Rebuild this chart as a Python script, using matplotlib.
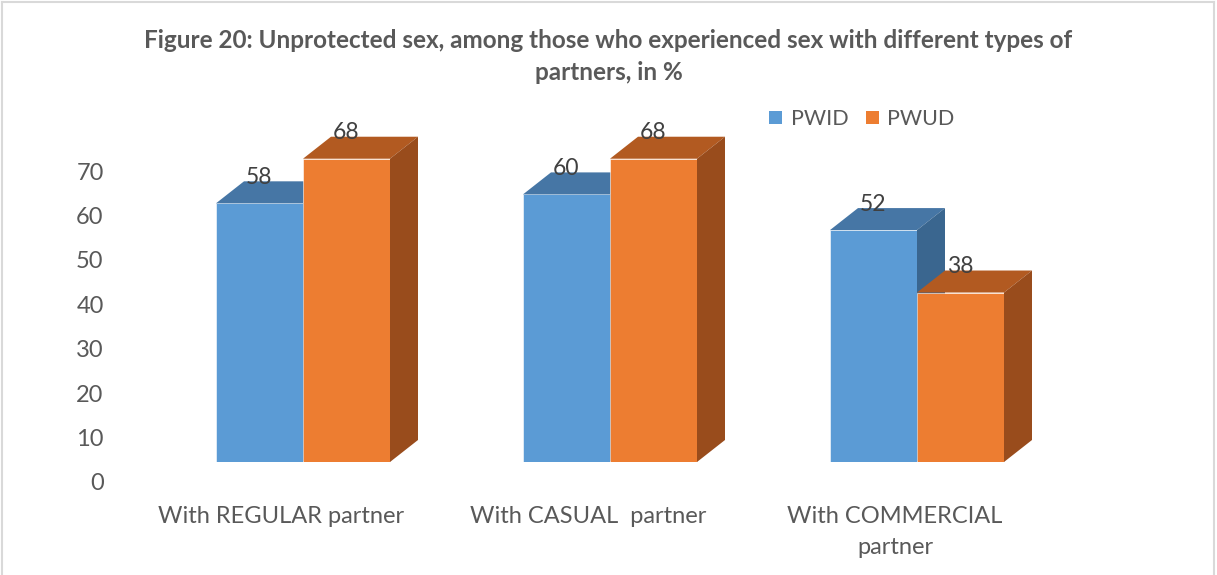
import matplotlib.pyplot as plt
import matplotlib
from matplotlib.patches import Rectangle, Polygon
from matplotlib.lines import Line2D
import numpy as np

categories = ['With REGULAR partner', 'With CASUAL  partner', 'With COMMERCIAL\npartner']
series = ['PWID', 'PWUD']
pwid = [58, 60, 52]
pwud = [68, 68, 38]
yticks = [0, 10, 20, 30, 40, 50, 60, 70]

front = ['#5B9BD5', '#ED7D31']
top = ['#4676A5', '#B25A21']
side = ['#3A668F', '#994C1C']
txt = '#595959'

matplotlib.rcParams['font.family'] = ['Lato', 'DejaVu Sans']

W, H = 1217, 575
fig = plt.figure(figsize=(W / 100, H / 100), dpi=100)

# axes placed so bar base sits at the right pixel row
left, bottom = 149.5 / W, 113 / H
width, height = 921 / W, 356.8 / H
ax = fig.add_axes([left, bottom, width, height])
ax.set_xlim(-0.5, 2.5)
ax.set_ylim(0, 80)
ax.axis('off')

bw = 87 / 307.0        # bar width in data units
dx = 28 / 307.0        # depth offset x
dy = 22 / 4.46         # depth offset y

x = np.arange(len(categories))
for i in range(len(categories)):
    for s, vals in enumerate([pwid, pwud]):
        h = vals[i]
        x0 = x[i] - bw + s * bw
        x1 = x0 + bw
        ax.add_patch(Rectangle((x0, 0), bw, h, facecolor=front[s],
                               edgecolor='#ffffff', linewidth=0.4))
        ax.add_patch(Polygon([(x0, h), (x0 + dx, h + dy), (x1 + dx, h + dy), (x1, h)],
                             closed=True, facecolor=top[s], edgecolor='none'))
        ax.add_patch(Polygon([(x1, 0), (x1 + dx, dy), (x1 + dx, h + dy), (x1, h)],
                             closed=True, facecolor=side[s], edgecolor='none'))
        ax.text(x0 + bw / 2, h + dy + 0.9, str(h), ha='center', va='center',
                fontsize=16.5, color='#404040')
    ax.annotate(categories[i], xy=(x[i], 0), xytext=(-22, -44),
                textcoords='offset pixels', ha='center', va='top',
                fontsize=17, color=txt, linespacing=1.6)

# y tick labels sit on the back wall, a bit lower than the bars
ax2 = fig.add_axes([left, bottom - 20 / H, width, 311 / 70 * 80 / H])
ax2.set_ylim(0, 80)
ax2.set_xlim(0, 1)
ax2.set_yticks(yticks)
ax2.set_yticklabels([str(t) for t in yticks], fontsize=17, color=txt)
ax2.tick_params(axis='y', length=0, pad=33)
ax2.set_xticks([])
for sp in ax2.spines.values():
    sp.set_visible(False)
ax2.patch.set_alpha(0)

fig.text(0.5, 1 - 40 / H, 'Figure 20: Unprotected sex, among those who experienced sex with different types of',
         ha='center', va='center', fontsize=17.5, fontweight='bold', color=txt)
fig.text(0.5, 1 - 73 / H, 'partners, in %',
         ha='center', va='center', fontsize=17.5, fontweight='bold', color=txt)

handles = [Rectangle((0, 0), 1, 1, facecolor=c) for c in front]
fig.legend(handles, series, loc='center', bbox_to_anchor=(862 / W, 1 - 119 / H),
           ncol=2, frameon=False, fontsize=15.5, labelcolor=txt,
           handlelength=0.6, handleheight=0.6, handletextpad=0.4, columnspacing=0.8)

# chart border
fig.add_artist(Line2D([2 / W, 2 / W], [0, 1 - 2 / H], color='#D9D9D9', lw=1.5))
fig.add_artist(Line2D([2 / W, 1214 / W], [1 - 2 / H, 1 - 2 / H], color='#D9D9D9', lw=1.5))
fig.add_artist(Line2D([1214 / W, 1214 / W], [0, 1 - 2 / H], color='#D9D9D9', lw=1.5))

plt.savefig('out.png', dpi=100)
